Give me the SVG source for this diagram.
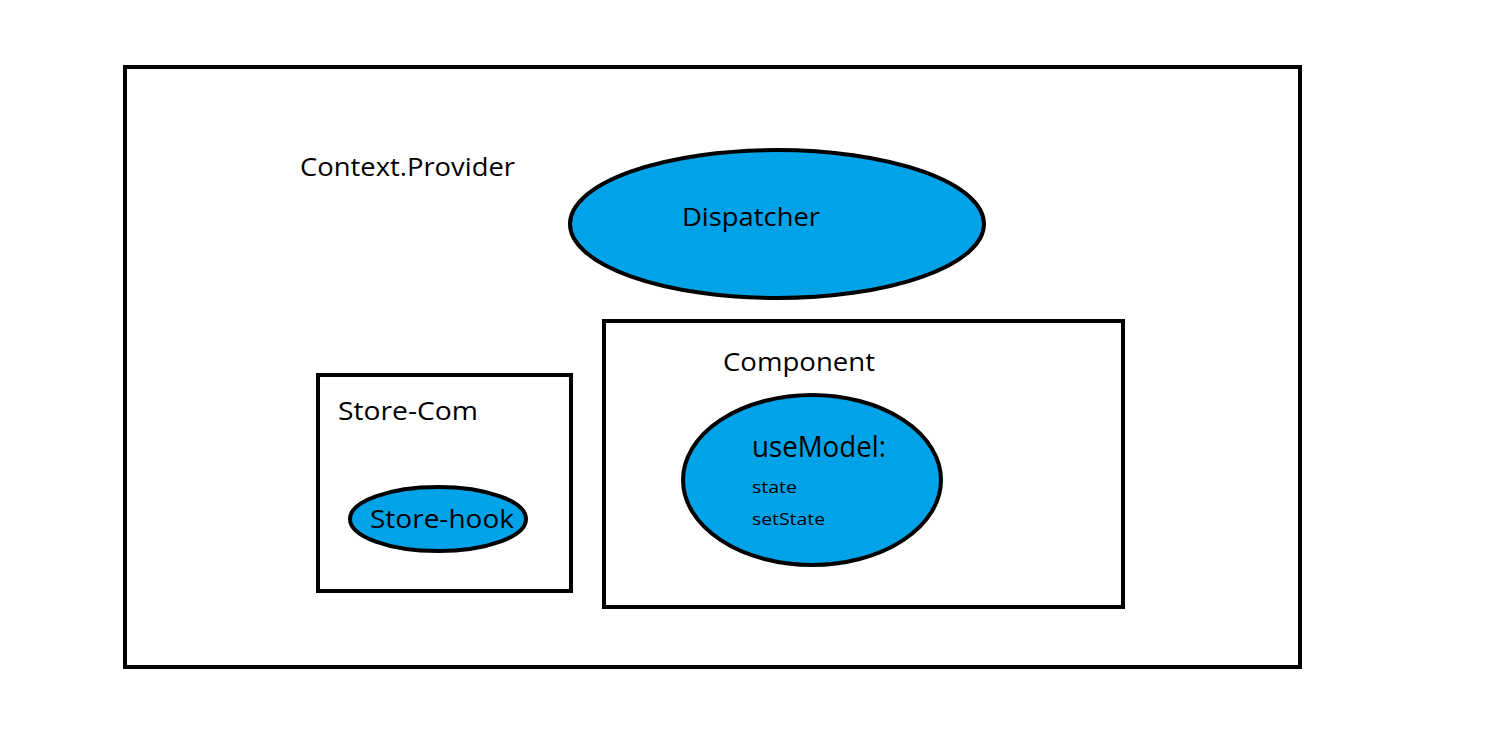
<svg xmlns="http://www.w3.org/2000/svg" width="1485" height="743" viewBox="0 0 1485 743">
<style>
.box{fill:#fff;stroke:#000;stroke-width:4}
.ell{fill:#00A2E8;stroke:#000;stroke-width:4}
text{font-family:"Open Sans","Noto Sans","Liberation Sans",sans-serif;fill:#000}
.t{font-size:26px}
</style>
<rect width="1485" height="743" fill="#fff"/>
<g id="provider">
<rect class="box" x="125" y="67" width="1175" height="600"/>
<text class="t" x="300" y="176" textLength="215" lengthAdjust="spacingAndGlyphs">Context.Provider</text>
</g>
<g id="dispatcher">
<ellipse class="ell" cx="777" cy="224" rx="207" ry="74"/>
<text class="t" x="682" y="226" textLength="138" lengthAdjust="spacingAndGlyphs">Dispatcher</text>
</g>
<g id="store-com">
<rect class="box" x="318" y="375" width="253" height="216"/>
<text class="t" x="338" y="420" textLength="140" lengthAdjust="spacingAndGlyphs">Store-Com</text>
</g>
<g id="store-hook">
<ellipse class="ell" cx="438" cy="519" rx="88" ry="32"/>
<text class="t" x="370" y="528" textLength="144" lengthAdjust="spacingAndGlyphs">Store-hook</text>
</g>
<g id="component">
<rect class="box" x="604" y="321" width="519" height="286"/>
<text class="t" x="723" y="371" textLength="152" lengthAdjust="spacingAndGlyphs">Component</text>
</g>
<g id="usemodel">
<ellipse class="ell" cx="812" cy="480" rx="129" ry="85"/>
<text x="752" y="457" font-size="29" textLength="134" lengthAdjust="spacingAndGlyphs">useModel:</text>
<text x="752" y="493" font-size="17" textLength="45" lengthAdjust="spacingAndGlyphs">state</text>
<text x="752" y="525" font-size="17" textLength="73" lengthAdjust="spacingAndGlyphs">setState</text>
</g>
<g id="connectors"></g>
</svg>
